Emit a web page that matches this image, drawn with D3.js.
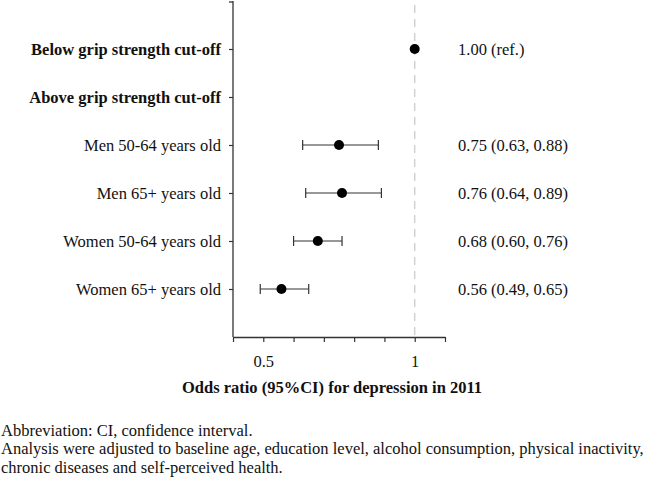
<!DOCTYPE html>
<html><head><meta charset="utf-8">
<script src="https://cdn.jsdelivr.net/npm/d3@7"></script>
<style>body{margin:0;background:#fff}svg{display:block}text{font-family:"Liberation Serif","Times New Roman",serif}</style>
</head><body>
<script>
const categories = ["Below grip strength cut-off","Above grip strength cut-off","Men 50-64 years old","Men 65+ years old","Women 50-64 years old","Women 65+ years old"];
const boldRows = [true,true,false,false,false,false];
const estimates = [1.00, null, 0.75, 0.76, 0.68, 0.56];
const lower = [null, null, 0.63, 0.64, 0.60, 0.49];
const upper = [null, null, 0.88, 0.89, 0.76, 0.65];
const estLabels = ["1.00 (ref.)", "", "0.75 (0.63, 0.88)", "0.76 (0.64, 0.89)", "0.68 (0.60, 0.76)", "0.56 (0.49, 0.65)"];
const xTicks = [0.4,0.5,0.6,0.7,0.8,0.9,1.0,1.1];
const xTickLabels = {0.5:"0.5", 1:"1"};
const xTitle = "Odds ratio (95%CI) for depression in 2011";
const notes = ["Abbreviation: CI, confidence interval.",
 "Analysis were adjusted to baseline age, education level, alcohol consumption, physical inactivity,",
 "chronic diseases and self-perceived health."];

const W=645,H=480,FS=16.5;
const svg=d3.select("body").append("svg").attr("width",W).attr("height",H);
const x=d3.scaleLinear().domain([0.4,1.1]).range([233,445]);
const y=d3.scalePoint().domain(categories).range([1,337]).padding(1);
const yTop=1,yBot=337;

// reference line
svg.append("line").attr("x1",x(1)).attr("x2",x(1)).attr("y1",5).attr("y2",yBot)
 .attr("stroke","#cccccc").attr("stroke-width",1.3).attr("stroke-dasharray","8,6");

// y axis
const yAxis=svg.append("g").attr("transform",`translate(${x(0.4)},0)`)
 .call(d3.axisLeft(y).tickSize(4).tickSizeOuter(0).tickFormat(""));
yAxis.select(".domain").remove();
yAxis.append("line").attr("x1",0).attr("x2",0).attr("y1",yTop).attr("y2",yBot).attr("stroke","#333").attr("stroke-width",1.3);
yAxis.append("line").attr("x1",-4).attr("x2",0).attr("y1",yTop+1).attr("y2",yTop+1).attr("stroke","#333").attr("stroke-width",1.3);
yAxis.selectAll(".tick line").attr("stroke","#333").attr("stroke-width",1.2);

svg.append("g").selectAll("text").data(categories).join("text")
 .attr("x",221).attr("y",d=>y(d)).attr("dy","0.35em").attr("text-anchor","end")
 .attr("font-size",FS).attr("font-weight",(d,i)=>boldRows[i]?"bold":"normal").attr("fill","#111").text(d=>d);

// x axis
const xAxis=svg.append("g").attr("transform",`translate(0,${yBot})`)
 .call(d3.axisBottom(x).tickValues(xTicks).tickSize(5).tickSizeOuter(0).tickFormat(d=>xTickLabels[d]||""));
xAxis.select(".domain").attr("stroke","#333").attr("stroke-width",1.3);
xAxis.selectAll(".tick line").attr("stroke","#333").attr("stroke-width",1.2);
xAxis.selectAll(".tick text").attr("font-size",FS).attr("fill","#111").attr("y",18)
 .attr("font-family","Liberation Serif, serif");

svg.append("text").attr("x",332).attr("y",393).attr("text-anchor","middle")
 .attr("font-size",FS).attr("font-weight","bold").attr("fill","#111").text(xTitle);

// error bars
const rows=categories.map((c,i)=>({c,est:estimates[i],lo:lower[i],hi:upper[i],lab:estLabels[i]}));
const eb=svg.append("g").attr("stroke","#333").attr("stroke-width",1.2);
rows.filter(r=>r.lo!=null).forEach(r=>{
 const yy=y(r.c);
 eb.append("line").attr("x1",x(r.lo)).attr("x2",x(r.hi)).attr("y1",yy).attr("y2",yy);
 eb.append("line").attr("x1",x(r.lo)).attr("x2",x(r.lo)).attr("y1",yy-5).attr("y2",yy+5);
 eb.append("line").attr("x1",x(r.hi)).attr("x2",x(r.hi)).attr("y1",yy-5).attr("y2",yy+5);
});
svg.append("g").selectAll("circle").data(rows.filter(r=>r.est!=null)).join("circle")
 .attr("cx",r=>x(r.est)).attr("cy",r=>y(r.c)).attr("r",5).attr("fill","#000");

svg.append("g").selectAll("text").data(rows).join("text")
 .attr("x",458).attr("y",r=>y(r.c)).attr("dy","0.35em").attr("font-size",FS).attr("fill","#111").text(r=>r.lab);

// footnote lines
svg.append("g").selectAll("text").data(notes).join("text")
 .attr("x",1).attr("y",(d,i)=>436+i*18.4).attr("font-size",FS).attr("fill","#111").text(d=>d);
</script>
</body></html>
